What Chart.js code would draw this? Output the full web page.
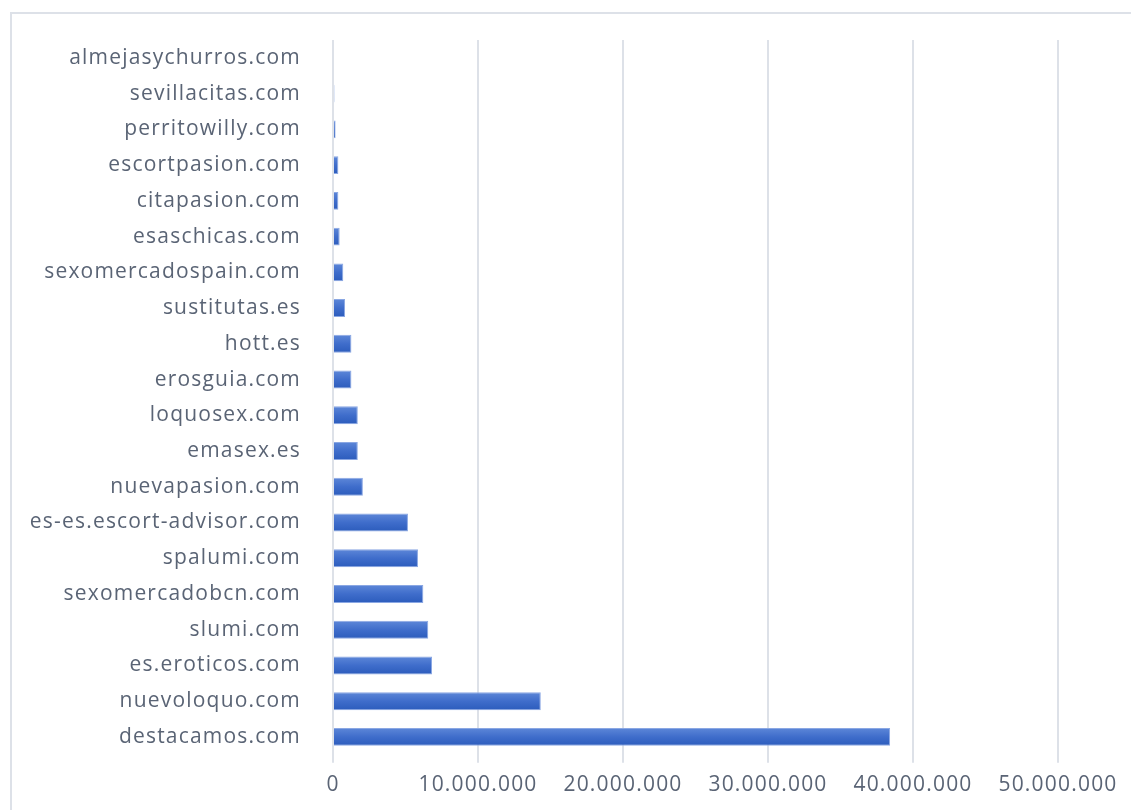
<!DOCTYPE html>
<html lang="es">
<head>
    <meta charset="UTF-8">
    <title>Visitas por sitio</title>
    <script src="https://cdn.jsdelivr.net/npm/chart.js"></script>
    <style>
        html, body {
            margin: 0;
            padding: 0;
            background-color: #ffffff;
            overflow: hidden;
        }

        #marco {
            position: absolute;
            left: 10px;
            top: 12px;
            width: 1200px;
            height: 900px;
            border-left: 2px solid #dde1e8;
            border-top: 2px solid #dde1e8;
        }

        #wrap {
            position: absolute;
            left: 0;
            top: 0;
            width: 1131px;
            height: 810px;
        }
    </style>
</head>
<body>
<div id="marco"></div>
<div id="wrap">
    <canvas id="barChart"></canvas>
</div>

<script>
    // Sitios (de arriba a abajo)
    const sitios = [
        'almejasychurros.com', 'sevillacitas.com', 'perritowilly.com', 'escortpasion.com',
        'citapasion.com', 'esaschicas.com', 'sexomercadospain.com', 'sustitutas.es',
        'hott.es', 'erosguia.com', 'loquosex.com', 'emasex.es', 'nuevapasion.com',
        'es-es.escort-advisor.com', 'spalumi.com', 'sexomercadobcn.com', 'slumi.com',
        'es.eroticos.com', 'nuevoloquo.com', 'destacamos.com'
    ];

    // Valores estimados a partir de la imagen
    const visitas = [
        0, 100000, 180000, 370000,
        370000, 460000, 710000, 830000,
        1270000, 1270000, 1710000, 1710000, 2060000,
        5170000, 5860000, 6230000, 6570000,
        6830000, 14330000, 38420000
    ];

    const ejeMin = 0;
    const ejeMax = 50000000;
    const ejePaso = 10000000;

    const grisTexto = '#5a6475';
    const grisRejilla = '#dde1e8';

    function formatoMiles(v) {
        return String(v).replace(/\B(?=(\d{3})+(?!\d))/g, '.');
    }

    // Degradado vertical por barra, al estilo de Excel
    function rellenoBarra(context) {
        const chart = context.chart;
        const y = chart.scales && chart.scales.y;
        if (context.type !== 'data' || !y || !chart.chartArea) {
            return '#3d6cc9';
        }
        const centro = y.getPixelForValue(context.dataIndex);
        const medio = (y.height / sitios.length) * 0.25;
        const g = chart.ctx.createLinearGradient(0, centro - medio, 0, centro + medio);
        g.addColorStop(0, '#5d87d8');
        g.addColorStop(0.5, '#3f6dcb');
        g.addColorStop(1, '#2c5cbc');
        return g;
    }

    // Letras algo espaciadas, como en la imagen original
    const espaciado = {
        id: 'espaciado',
        beforeUpdate: chart => { chart.ctx.letterSpacing = '1.2px'; },
        beforeLayout: chart => { chart.ctx.letterSpacing = '1.2px'; },
        beforeDraw: chart => { chart.ctx.letterSpacing = '1.2px'; }
    };

    new Chart(document.getElementById('barChart').getContext('2d'), {
        type: 'bar',
        data: {
            labels: sitios,
            datasets: [{
                label: 'Visitas',
                data: visitas,
                backgroundColor: rellenoBarra,
                borderColor: '#8aa7e3',
                borderWidth: 1,
                barPercentage: 0.5,
                categoryPercentage: 1.0
            }]
        },
        plugins: [espaciado],
        options: {
            indexAxis: 'y',
            responsive: true,
            maintainAspectRatio: false,
            animation: false,
            layout: {
                padding: { top: 40, right: 73, bottom: 2, left: 0 }
            },
            plugins: {
                legend: { display: false },
                tooltip: { enabled: false }
            },
            scales: {
                x: {
                    min: ejeMin,
                    max: ejeMax,
                    border: { display: false },
                    grid: {
                        color: grisRejilla,
                        lineWidth: 2,
                        tickLength: 8,
                        drawTicks: true
                    },
                    ticks: {
                        stepSize: ejePaso,
                        color: grisTexto,
                        padding: 10,
                        font: { family: 'Open Sans', size: 21 },
                        callback: v => formatoMiles(v)
                    }
                },
                y: {
                    border: { display: false },
                    grid: { display: false },
                    afterFit: scale => { scale.width = 333; },
                    ticks: {
                        color: grisTexto,
                        padding: 24,
                        autoSkip: false,
                        font: { family: 'Open Sans', size: 21 }
                    }
                }
            }
        }
    });
</script>
</body>
</html>
